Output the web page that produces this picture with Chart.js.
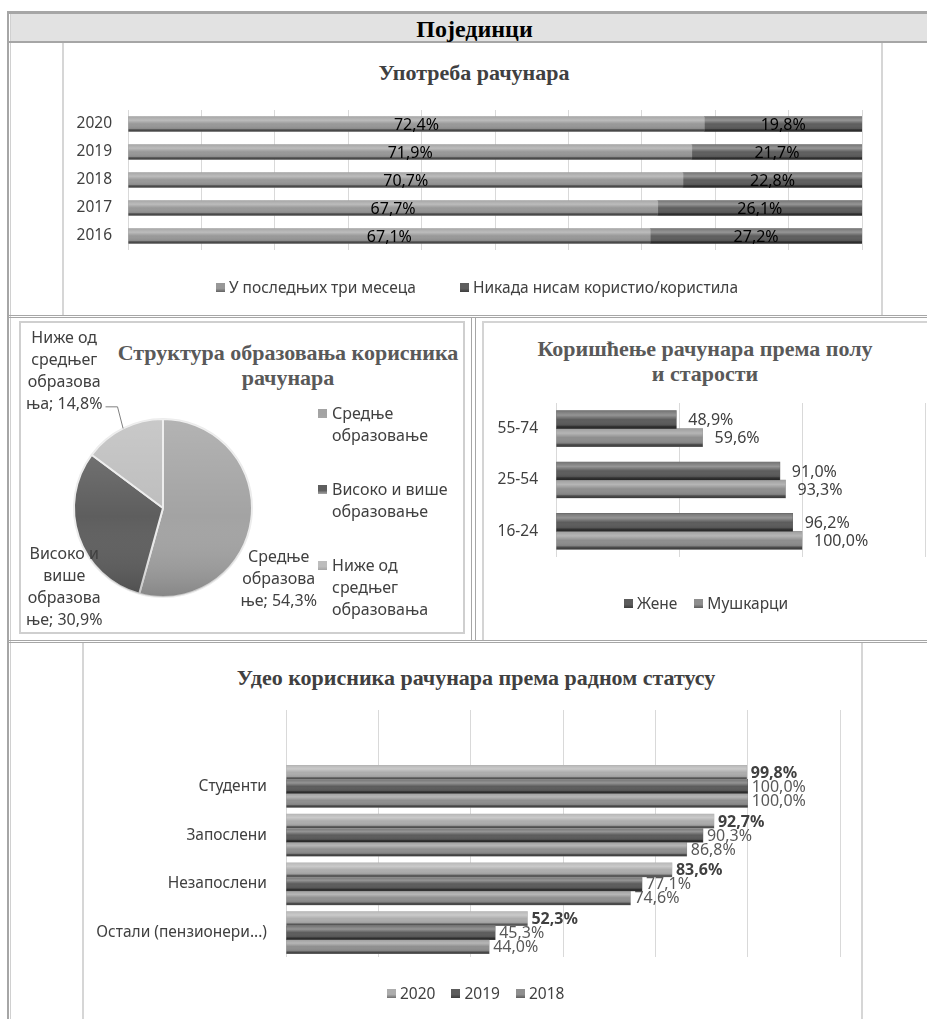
<!DOCTYPE html>
<html>
<head>
<meta charset="utf-8">
<script src="https://cdn.jsdelivr.net/npm/chart.js@4.4.1/dist/chart.umd.min.js"></script>
<style>
  body { margin: 0; width: 927px; height: 1019px; overflow: hidden; background: #fff; position: relative; font-family: "Noto Sans", sans-serif; }
  .abs { position: absolute; }
  .title { position: absolute; font-family: "Liberation Serif", serif; font-weight: bold; font-size: 22px; line-height: 25px; text-align: center; white-space: pre-line; }
  .legend { position: absolute; display: flex; white-space: nowrap; font-size: 15.5px; color: #404040; line-height: 20px; }
  .legend .item { display: flex; align-items: center; }
  .mk { width: 9px; height: 9px; margin-right: 4px; }
  canvas { position: absolute; }
</style>
</head>
<body>
<!-- table frame -->
<div class="abs" style="left:7px;top:11px;width:2px;height:1010px;background:#a6a6a6"></div>
<div class="abs" style="left:10px;top:14px;width:1px;height:1010px;background:#d0d0d0"></div>
<div class="abs" style="left:7px;top:11px;width:930px;height:3px;background:#a6a6a6"></div>
<div class="abs" style="left:11px;top:14px;width:920px;height:27px;background:#e2e2e2"></div>
<div class="abs" style="left:9px;top:41px;width:920px;height:2px;background:#a6a6a6"></div>
<div class="abs" style="left:11px;top:14px;width:916px;height:27px;line-height:30px;text-align:center;padding-left:11px;box-sizing:border-box;font-family:'Liberation Serif',serif;font-weight:bold;font-size:24px;color:#000">Појединци</div>

<div class="abs" style="left:62px;top:43px;width:2px;height:273px;background:#d6d6d6"></div>
<div class="abs" style="left:881px;top:43px;width:2px;height:273px;background:#d6d6d6"></div>
<div class="abs" style="left:9px;top:315px;width:920px;height:1px;background:#a6a6a6"></div>
<div class="abs" style="left:9px;top:317px;width:920px;height:1px;background:#a6a6a6"></div>

<div class="abs" style="left:19px;top:321px;width:442px;height:309px;border:2px solid #cfcfcf"></div>
<div class="abs" style="left:471px;top:318px;width:1px;height:323px;background:#a6a6a6"></div>
<div class="abs" style="left:475px;top:318px;width:1px;height:323px;background:#a6a6a6"></div>
<div class="abs" style="left:482px;top:321px;width:460px;height:318px;border-left:2px solid #d4d4d4;border-top:2px solid #d4d4d4"></div>

<div class="abs" style="left:9px;top:640px;width:920px;height:1px;background:#a6a6a6"></div>
<div class="abs" style="left:9px;top:642px;width:920px;height:1px;background:#a6a6a6"></div>
<div class="abs" style="left:82px;top:643px;width:2px;height:380px;background:#d6d6d6"></div>
<div class="abs" style="left:861px;top:643px;width:2px;height:380px;background:#d6d6d6"></div>

<!-- titles -->
<div class="title" style="left:63px;top:60px;width:822px;color:#404040">Употреба рачунара</div>
<div class="title" style="left:100px;top:340px;width:376px;color:#595959">Структура образовања корисника
рачунара</div>
<div class="title" style="left:490px;top:336px;width:430px;color:#595959">Коришћење рачунара према полу
и старости</div>
<div class="title" style="left:83px;top:665px;width:786px;color:#404040">Удео корисника рачунара према радном статусу</div>

<canvas id="useChart" width="819" height="273" style="left:63px;top:43px"></canvas>
<canvas id="eduChart" width="443" height="311" style="left:20px;top:321px"></canvas>
<canvas id="sexChart" width="444" height="319" style="left:483px;top:321px"></canvas>
<canvas id="statusChart" width="779" height="376" style="left:83px;top:643px"></canvas>

<div id="useLegend" class="legend" style="left:216px;top:277px;gap:44px"></div>
<div id="eduLegend" class="abs" style="left:318px;top:402px;white-space:nowrap;font-size:16px;line-height:22px;color:#404040"></div>
<div id="sexLegend" class="legend" style="left:624px;top:593px;gap:17px"></div>
<div id="statusLegend" class="legend" style="left:387px;top:983px;gap:16px"></div>

<script>
// Употреба рачунара (100% stacked)
const useYears = ["2020", "2019", "2018", "2017", "2016"];
const useSeries = ["У последњих три месеца", "Никада нисам користио/користила"];
const useLast3 = [72.4, 71.9, 70.7, 67.7, 67.1];
const useNever = [19.8, 21.7, 22.8, 26.1, 27.2];

// Структура образовања корисника рачунара
const eduCats = ["Средње образовање", "Високо и више образовање", "Ниже од средњег образовања"];
const eduShare = [54.3, 30.9, 14.8];
const eduLegendLines = [["Средње", "образовање"], ["Високо и више", "образовање"], ["Ниже од", "средњег", "образовања"]];
const eduLabelLines = [["Средње", "образова", "ње"], ["Високо и", "више", "образова", "ње"], ["Ниже од", "средњег", "образова", "ња"]];

// Коришћење рачунара према полу и старости
const ageGroups = ["55-74", "25-54", "16-24"];
const sexSeries = ["Жене", "Мушкарци"];
const women = [48.9, 91.0, 96.2];
const men = [59.6, 93.3, 100.0];

// Удео корисника рачунара према радном статусу
const statusCats = ["Студенти", "Запослени", "Незапослени", "Остали (пензионери...)"];
const statusYears = ["2020", "2019", "2018"];
const y2020 = [99.8, 92.7, 83.6, 52.3];
const y2019 = [100.0, 90.3, 77.1, 45.3];
const y2018 = [100.0, 86.8, 74.6, 44.0];

const fmt = v => v.toFixed(1).replace(".", ",") + "%";

Chart.defaults.font.family = '"Noto Sans", sans-serif';
Chart.defaults.font.size = 15.5;
Chart.defaults.color = "#404040";
Chart.defaults.animation = false;
Chart.defaults.plugins.legend.display = false;
Chart.defaults.plugins.tooltip.enabled = false;

// cylinder-ish shading over bars
const shade = {
  id: "shade",
  afterDatasetsDraw(chart) {
    const ctx = chart.ctx;
    chart.data.datasets.forEach((ds, i) => {
      chart.getDatasetMeta(i).data.forEach(bar => {
        const top = bar.y - bar.height / 2;
        const g = ctx.createLinearGradient(0, top, 0, top + bar.height);
        g.addColorStop(0, "rgba(255,255,255,0.15)");
        g.addColorStop(0.25, "rgba(255,255,255,0.35)");
        g.addColorStop(0.5, "rgba(255,255,255,0)");
        g.addColorStop(0.8, "rgba(0,0,0,0.08)");
        g.addColorStop(0.88, "rgba(0,0,0,0.45)");
        g.addColorStop(1, "rgba(0,0,0,0.6)");
        ctx.fillStyle = g;
        ctx.fillRect(Math.min(bar.x, bar.base), top, Math.abs(bar.x - bar.base), bar.height);
      });
    });
  }
};

const valueLabels = {
  id: "valueLabels",
  afterDatasetsDraw(chart, args, opts) {
    const ctx = chart.ctx;
    ctx.save();
    ctx.textBaseline = "middle";
    chart.data.datasets.forEach((ds, i) => {
      const vals = ds.shown || ds.data;
      ctx.font = (opts.bold && opts.bold[i] ? "bold " : "") + opts.size + 'px "Noto Sans"';
      ctx.fillStyle = opts.colors ? opts.colors[i] : "#000";
      chart.getDatasetMeta(i).data.forEach((bar, j) => {
        const t = fmt(vals[j]);
        if (opts.center) {
          ctx.textAlign = "center";
          ctx.fillText(t, (bar.x + bar.base) / 2, bar.y + 1);
        } else {
          ctx.textAlign = "left";
          ctx.fillText(t, bar.x + opts.offset, bar.y + 1);
        }
      });
    });
    ctx.restore();
  }
};

const catAxis = (w, pad) => ({
  grid: { display: false, drawTicks: false },
  border: { display: false },
  ticks: { padding: pad, color: "#404040", font: { size: 15.5 } },
  afterFit(s) { s.width = w; }
});

new Chart(document.getElementById("useChart"), {
  type: "bar",
  data: {
    labels: useYears,
    datasets: [
      { label: useSeries[0], shown: useLast3, data: useLast3.map((v, i) => v / (v + useNever[i]) * 100), backgroundColor: "#989898" },
      { label: useSeries[1], shown: useNever, data: useNever.map((v, i) => v / (v + useLast3[i]) * 100), backgroundColor: "#5e5e5e" }
    ]
  },
  options: {
    responsive: false,
    indexAxis: "y",
    barThickness: 15,
    layout: { padding: { left: 0, right: 20, top: 67, bottom: 66 } },
    scales: {
      x: { stacked: true, min: 0, max: 100, ticks: { display: false, stepSize: 10 },
           grid: { color: "#d9d9d9", drawTicks: false }, border: { display: false } },
      y: Object.assign({ stacked: true }, catAxis(65, 16))
    },
    plugins: { valueLabels: { center: true, size: 16 } }
  },
  plugins: [shade, valueLabels]
});

new Chart(document.getElementById("sexChart"), {
  type: "bar",
  data: {
    labels: ageGroups,
    datasets: [
      { label: sexSeries[0], data: women, backgroundColor: "#5c5c5c" },
      { label: sexSeries[1], data: men, backgroundColor: "#8e8e8e" }
    ]
  },
  options: {
    responsive: false,
    indexAxis: "y",
    barThickness: 18,
    layout: { padding: { left: 0, right: 2, top: 82, bottom: 83 } },
    scales: {
      x: { min: 0, max: 150, ticks: { display: false, stepSize: 50 },
           grid: { color: "#d9d9d9", drawTicks: false }, border: { display: false } },
      y: catAxis(73, 18)
    },
    plugins: { valueLabels: { size: 16, offset: 12, colors: ["#404040", "#404040"] } }
  },
  plugins: [shade, valueLabels]
});

new Chart(document.getElementById("statusChart"), {
  type: "bar",
  data: {
    labels: statusCats,
    datasets: [
      { label: statusYears[0], data: y2020, backgroundColor: "#adadad" },
      { label: statusYears[1], data: y2019, backgroundColor: "#5c5c5c" },
      { label: statusYears[2], data: y2018, backgroundColor: "#8f8f8f" }
    ]
  },
  options: {
    responsive: false,
    indexAxis: "y",
    barThickness: 14,
    layout: { padding: { left: 0, right: 22, top: 67, bottom: 62 } },
    scales: {
      x: { position: "top", min: 0, max: 120, ticks: { display: false, stepSize: 20 },
           grid: { color: "#d9d9d9", drawTicks: true, tickLength: 52 }, border: { display: false } },
      y: catAxis(203, 19)
    },
    plugins: { valueLabels: { size: 16, offset: 4, bold: [true, false, false], colors: ["#404040", "#595959", "#595959"] } }
  },
  plugins: [shade, valueLabels]
});

const pieShade = {
  id: "pieShade",
  afterDatasetsDraw(chart) {
    const arc = chart.getDatasetMeta(0).data[0];
    const ctx = chart.ctx, r = arc.outerRadius;
    ctx.save();
    ctx.beginPath();
    ctx.arc(arc.x, arc.y, r, 0, Math.PI * 2);
    ctx.clip();
    const g = ctx.createLinearGradient(arc.x, arc.y - r, arc.x, arc.y + r);
    g.addColorStop(0, "rgba(255,255,255,0.18)");
    g.addColorStop(0.55, "rgba(255,255,255,0)");
    g.addColorStop(1, "rgba(0,0,0,0.18)");
    ctx.fillStyle = g;
    ctx.fillRect(arc.x - r, arc.y - r, 2 * r, 2 * r);
    ctx.restore();
  }
};

const pieLabels = {
  id: "pieLabels",
  afterDatasetsDraw(chart, args, opts) {
    const ctx = chart.ctx, lh = 22;
    ctx.save();
    ctx.font = '16px "Noto Sans"';
    ctx.fillStyle = "#404040";
    ctx.textAlign = "center";
    ctx.textBaseline = "middle";
    chart.getDatasetMeta(0).data.forEach((arc, i) => {
      const lines = eduLabelLines[i].slice();
      lines[lines.length - 1] += "; " + fmt(eduShare[i]);
      const r = arc.outerRadius;
      const bx = arc.x + opts.place[i][0] * r;
      const by = arc.y + opts.place[i][1] * r;
      const top = by - (lines.length - 1) * lh / 2;
      lines.forEach((l, k) => ctx.fillText(l, bx, top + k * lh));
      if (opts.leader[i]) {
        const mid = (arc.startAngle + arc.endAngle) / 2;
        const sx = arc.x + Math.cos(mid) * r, sy = arc.y + Math.sin(mid) * r;
        const w = ctx.measureText(lines[lines.length - 1]).width;
        const ly = top + (lines.length - 1) * lh + 2;
        const ex = bx + w / 2 + 3;
        ctx.strokeStyle = "#7f7f7f";
        ctx.lineWidth = 1;
        ctx.beginPath();
        ctx.moveTo(sx, sy);
        ctx.lineTo(ex + 12, ly);
        ctx.lineTo(ex, ly);
        ctx.stroke();
      }
    });
    ctx.restore();
  }
};

const eduColors = ["#a3a3a3", "#5e5e5e", "#bdbdbd"];
new Chart(document.getElementById("eduChart"), {
  type: "pie",
  data: {
    labels: eduCats,
    datasets: [{ data: eduShare, backgroundColor: eduColors, borderColor: "#ececec", borderWidth: 2 }]
  },
  options: {
    responsive: false,
    layout: { padding: { left: 53, top: 97, right: 210, bottom: 34 } },
    plugins: { pieLabels: { place: [[1.3, 0.8], [-1.11, 0.89], [-1.11, -1.53]], leader: [false, false, true] } }
  },
  plugins: [pieShade, pieLabels]
});

// legends
function marker(c) {
  return `<span class="mk" style="background:linear-gradient(${c}, ${c} 60%, rgba(0,0,0,0.35)), ${c}"></span>`;
}
function fillLegend(id, names, colors) {
  document.getElementById(id).innerHTML = names.map((n, i) =>
    `<span class="item">${marker(colors[i])}${n}</span>`).join("");
}
fillLegend("useLegend", useSeries, ["#989898", "#5e5e5e"]);
fillLegend("sexLegend", sexSeries, ["#5c5c5c", "#8e8e8e"]);
fillLegend("statusLegend", statusYears, ["#adadad", "#5c5c5c", "#8f8f8f"]);

document.getElementById("eduLegend").innerHTML = eduLegendLines.map((lines, i) =>
  `<div style="position:relative;padding-left:14px;margin-bottom:${i < eduLegendLines.length - 1 ? 32 : 0}px">` +
  `<span style="position:absolute;left:0;top:7px;width:9px;height:9px;background:linear-gradient(${eduColors[i]}, ${eduColors[i]} 60%, rgba(0,0,0,0.35))"></span>${lines.join("<br>")}</div>`
).join("");
</script>
</body>
</html>
